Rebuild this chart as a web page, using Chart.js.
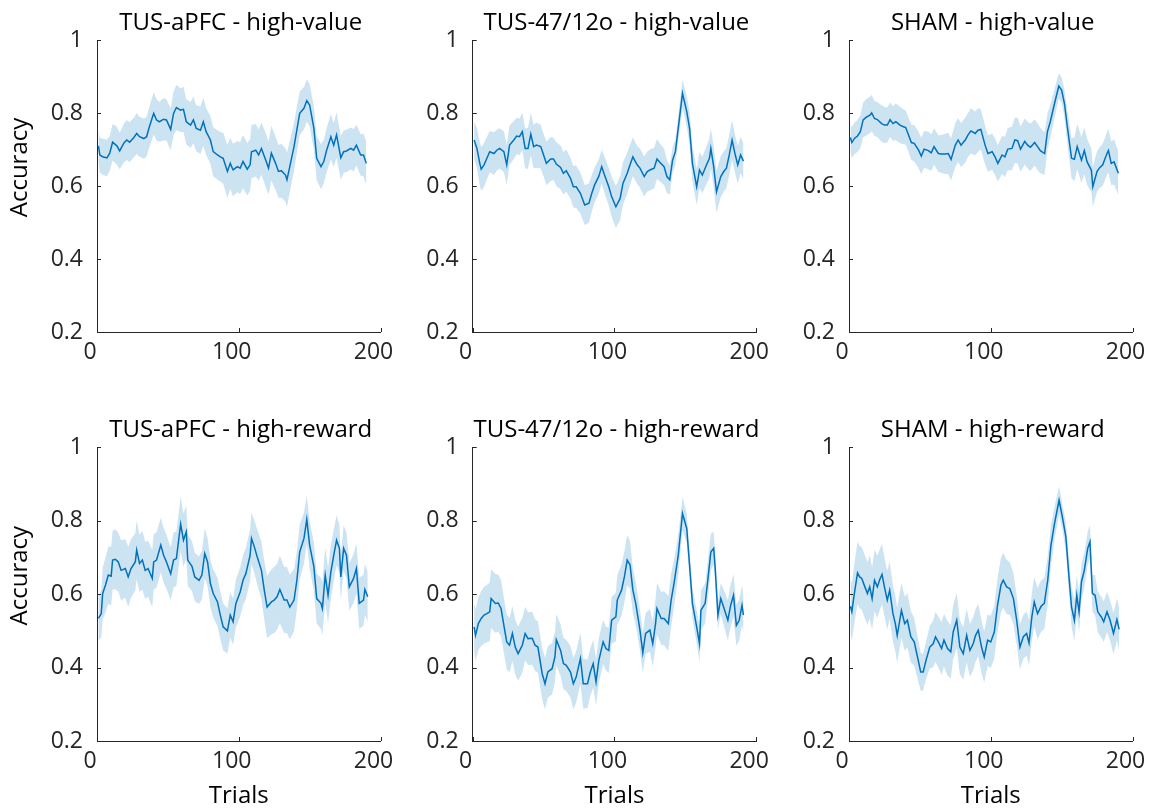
<!DOCTYPE html>
<html><head><meta charset="utf-8">
<script src="https://cdn.jsdelivr.net/npm/chart.js@4.4.1/dist/chart.umd.min.js"></script>
<style>
html,body{margin:0;padding:0;background:#fff;width:1154px;height:809px;overflow:hidden;position:relative}
canvas{position:absolute}
</style></head><body>
<script>
// ---------- tick labels / titles ----------
const xTicks = [0, 100, 200];
const yTicks = [0.2, 0.4, 0.6, 0.8, 1];
const titles = ['TUS-aPFC - high-value', 'TUS-47/12o - high-value', 'SHAM - high-value',
                'TUS-aPFC - high-reward', 'TUS-47/12o - high-reward', 'SHAM - high-reward'];
const yLabel = 'Accuracy';
const xLabel = 'Trials';

// ---------- TUS-aPFC - high-value ----------
const trialsAV = [1,2,4,7,9,11,14,16,19,21,23,26,28,30,33,35,37,40,42,44,47,49,52,54,56,59,61,63,66,68,70,73,75,77,80,82,85,87,89,92,94,96,99,101,103,106,108,109,112,114,116,119,121,123,126,128,130,133,134,136,139,141,143,146,148,150,153,155,158,160,162,165,167,169,172,174,176,179,181,183,186,188,190];
const accAV = [0.71,0.685,0.68,0.677,0.69,0.72,0.71,0.696,0.718,0.726,0.72,0.733,0.744,0.735,0.73,0.735,0.763,0.799,0.781,0.776,0.783,0.781,0.755,0.799,0.815,0.808,0.81,0.776,0.767,0.781,0.758,0.753,0.776,0.749,0.726,0.694,0.685,0.68,0.676,0.64,0.662,0.644,0.653,0.649,0.667,0.646,0.658,0.694,0.698,0.685,0.703,0.671,0.649,0.69,0.662,0.64,0.642,0.63,0.617,0.653,0.708,0.754,0.799,0.813,0.834,0.822,0.758,0.676,0.653,0.667,0.698,0.735,0.712,0.74,0.677,0.694,0.696,0.703,0.698,0.712,0.685,0.685,0.662];
const semAV = [0.045,0.047,0.05,0.05,0.048, 0.05,0.052,0.05,0.053,0.055, 0.055,0.054,0.056,0.055,0.055, 0.054,0.056,0.058,0.057,0.055, 0.058,0.056,0.058,0.06,0.062, 0.06,0.062,0.062,0.063,0.064, 0.063,0.065,0.066,0.064,0.066, 0.067,0.068,0.068,0.07,0.072, 0.07,0.072,0.07,0.071,0.073, 0.072,0.07,0.073,0.072,0.07, 0.072,0.074,0.073,0.075,0.073, 0.072,0.074,0.073,0.075,0.07, 0.066,0.063,0.06,0.058,0.058, 0.058,0.06,0.06,0.062,0.06, 0.06,0.062,0.06,0.062,0.06, 0.058,0.058,0.057,0.058,0.056, 0.057,0.058,0.06];

// ---------- TUS-47/12o - high-value ----------
const trials4V = [1,3,5,6,8,10,12,15,17,19,22,24,26,29,31,33,35,37,39,41,43,45,48,50,52,55,57,59,62,64,66,69,71,73,76,79,82,84,86,89,91,93,96,98,101,104,106,109,111,113,116,118,121,123,125,128,130,132,135,137,139,141,143,145,148,151,153,155,158,160,162,165,167,168,170,172,175,177,179,181,183,185,187,189,191];
const acc4V = [0.726,0.703,0.662,0.646,0.658,0.676,0.694,0.689,0.698,0.703,0.694,0.658,0.712,0.726,0.737,0.735,0.749,0.703,0.703,0.742,0.708,0.712,0.708,0.685,0.662,0.674,0.674,0.66,0.651,0.635,0.642,0.621,0.598,0.598,0.58,0.548,0.553,0.58,0.603,0.627,0.653,0.63,0.598,0.571,0.543,0.566,0.607,0.635,0.658,0.68,0.658,0.649,0.626,0.639,0.644,0.649,0.674,0.665,0.653,0.626,0.617,0.671,0.694,0.758,0.854,0.804,0.758,0.662,0.598,0.644,0.63,0.658,0.676,0.703,0.653,0.584,0.626,0.639,0.649,0.685,0.726,0.689,0.658,0.685,0.668];
const sem4V = [0.05,0.055,0.06,0.06,0.06, 0.058,0.057,0.058,0.056,0.055, 0.056,0.055,0.054,0.052,0.05, 0.05,0.052,0.055,0.056,0.058, 0.06,0.062,0.06,0.058,0.06, 0.06,0.058,0.06,0.06,0.058, 0.058,0.056,0.057,0.058,0.056, 0.055,0.054,0.05,0.048,0.047, 0.046,0.05,0.052,0.055,0.058, 0.06,0.058,0.057,0.055,0.053, 0.052,0.054,0.055,0.055,0.056, 0.056,0.055,0.052,0.05,0.045, 0.04,0.035,0.035,0.035,0.038, 0.042,0.045,0.048,0.05,0.05, 0.05,0.052,0.055,0.055,0.056, 0.058,0.056,0.055,0.055,0.055, 0.054,0.052,0.052,0.05,0.05];

// ---------- SHAM - high-value ----------
const trialsSV = [1,2,4,6,8,10,12,15,16,18,20,23,25,27,29,31,33,36,38,40,42,44,46,49,51,53,56,58,60,63,65,68,70,72,75,77,79,82,84,86,89,91,93,96,98,101,103,105,108,110,112,115,117,119,121,124,126,128,131,133,135,138,140,142,145,148,150,152,154,157,159,161,164,166,168,171,172,175,177,179,182,183,185,187,190];
const accSV = [0.733,0.719,0.731,0.737,0.749,0.781,0.788,0.795,0.8,0.785,0.782,0.771,0.767,0.767,0.782,0.771,0.776,0.767,0.763,0.76,0.74,0.719,0.717,0.699,0.682,0.701,0.697,0.691,0.708,0.689,0.688,0.688,0.689,0.673,0.712,0.726,0.712,0.726,0.74,0.751,0.744,0.753,0.755,0.712,0.689,0.694,0.68,0.662,0.685,0.68,0.701,0.703,0.726,0.724,0.701,0.722,0.712,0.706,0.719,0.708,0.697,0.689,0.749,0.776,0.826,0.874,0.863,0.826,0.763,0.676,0.673,0.708,0.671,0.697,0.666,0.643,0.598,0.64,0.651,0.658,0.689,0.697,0.662,0.666,0.635];
const semSV = [0.04,0.042,0.043,0.044,0.045, 0.048,0.05,0.05,0.05,0.048, 0.048,0.05,0.05,0.048,0.047, 0.048,0.05,0.05,0.048,0.047, 0.047,0.048,0.05,0.05,0.05, 0.05,0.052,0.05,0.05,0.05, 0.052,0.055,0.057,0.058,0.06, 0.06,0.06,0.062,0.06,0.062, 0.06,0.06,0.055,0.053,0.05, 0.05,0.05,0.05,0.052,0.055, 0.058,0.06,0.062,0.063,0.062, 0.063,0.064,0.065,0.063,0.064, 0.062,0.058,0.05,0.045,0.04, 0.035,0.035,0.038,0.045,0.055, 0.06,0.062,0.063,0.064,0.063, 0.06,0.055,0.055,0.056,0.058, 0.058,0.06,0.06,0.062,0.06];

// ---------- TUS-aPFC - high-reward ----------
const trialsAR = [1,3,4,6,8,10,11,13,15,17,20,22,24,27,28,30,32,34,36,39,40,42,45,47,49,52,54,56,59,61,63,64,67,69,72,74,76,78,80,82,85,87,89,92,94,96,98,101,103,105,108,109,111,113,116,118,120,123,125,127,129,132,134,136,139,141,143,146,148,150,153,155,158,159,161,163,165,167,169,171,172,174,176,178,181,183,185,188,189,191];
const accAR = [0.534,0.547,0.602,0.625,0.652,0.649,0.693,0.695,0.688,0.665,0.67,0.647,0.67,0.688,0.72,0.684,0.693,0.665,0.67,0.643,0.688,0.693,0.734,0.706,0.688,0.656,0.693,0.697,0.791,0.747,0.77,0.693,0.676,0.647,0.638,0.652,0.711,0.688,0.629,0.602,0.579,0.543,0.511,0.5,0.543,0.525,0.575,0.606,0.638,0.656,0.706,0.752,0.729,0.702,0.665,0.611,0.565,0.579,0.584,0.593,0.613,0.584,0.584,0.565,0.584,0.638,0.715,0.752,0.804,0.734,0.675,0.588,0.575,0.561,0.652,0.597,0.661,0.706,0.747,0.725,0.647,0.725,0.706,0.62,0.643,0.67,0.575,0.584,0.613,0.593];
const semAR = [0.06,0.065,0.07,0.075,0.078, 0.08,0.08,0.082,0.08,0.082, 0.08,0.082,0.08,0.078,0.08, 0.078,0.08,0.078,0.076,0.078, 0.076,0.075,0.074,0.075,0.073, 0.072,0.075,0.074,0.075,0.073, 0.072,0.07,0.068,0.066,0.065, 0.066,0.068,0.066,0.065,0.066, 0.066,0.065,0.064,0.062,0.062, 0.063,0.065,0.067,0.068,0.07, 0.07,0.07,0.072,0.075,0.078, 0.08,0.085,0.088,0.09,0.09, 0.092,0.09,0.09,0.088,0.085, 0.08,0.075,0.07,0.065,0.065, 0.066,0.068,0.07,0.072,0.075, 0.075,0.074,0.07,0.068,0.065, 0.062,0.062,0.063,0.065,0.066, 0.068,0.07,0.07,0.07,0.068];

// ---------- TUS-47/12o - high-reward ----------
const trials4R = [1,2,4,6,8,10,12,13,16,18,20,22,24,26,28,30,32,35,37,39,42,44,46,49,51,53,56,58,59,62,64,66,69,71,73,76,78,81,83,85,87,89,92,94,96,98,101,102,105,107,109,111,113,115,118,120,122,125,127,129,130,133,135,138,140,142,145,148,151,153,155,158,160,161,164,166,168,170,171,173,175,177,180,182,184,186,188,190,191];
const acc4R = [0.511,0.488,0.52,0.534,0.543,0.547,0.552,0.588,0.575,0.576,0.561,0.515,0.47,0.461,0.493,0.456,0.438,0.461,0.493,0.479,0.48,0.461,0.456,0.384,0.356,0.388,0.397,0.429,0.476,0.447,0.411,0.406,0.388,0.356,0.374,0.425,0.356,0.356,0.388,0.411,0.361,0.42,0.47,0.452,0.447,0.529,0.538,0.584,0.611,0.647,0.693,0.68,0.611,0.575,0.502,0.44,0.493,0.502,0.465,0.52,0.561,0.534,0.534,0.52,0.584,0.629,0.706,0.82,0.779,0.679,0.575,0.511,0.465,0.556,0.575,0.643,0.715,0.725,0.675,0.543,0.588,0.565,0.529,0.57,0.597,0.515,0.529,0.57,0.543];
const sem4R = [0.065,0.07,0.072,0.075,0.077, 0.078,0.08,0.08,0.08,0.078, 0.077,0.075,0.075,0.074,0.075, 0.075,0.074,0.075,0.073,0.072, 0.072,0.07,0.07,0.07,0.071, 0.07,0.07,0.068,0.07,0.07, 0.07,0.07,0.07,0.071,0.07, 0.07,0.068,0.066,0.065,0.065, 0.063,0.062,0.06,0.06,0.062, 0.064,0.066,0.068,0.07,0.07, 0.068,0.065,0.062,0.058,0.056, 0.055,0.056,0.058,0.062,0.066, 0.07,0.072,0.074,0.075,0.072, 0.065,0.055,0.045,0.04,0.04, 0.042,0.045,0.05,0.055,0.055, 0.052,0.05,0.045,0.042,0.04, 0.042,0.048,0.055,0.058,0.058, 0.056,0.055,0.054,0.052];

// ---------- SHAM - high-reward ----------
const trialsSR = [1,2,3.5,4.5,6,7.5,9,11,13,14.6,16.3,18,20,21.7,23.3,25,27,28.7,31,32.7,34,35.8,37,39.3,41.2,43.6,46,48.3,50.6,52.3,54.7,57,59.4,61,63,65.3,67,69.5,71.8,73.5,76,78.2,80.6,83,85.3,87.6,89.3,91.2,93.5,95.4,97.8,100,102.5,104.8,107.2,108.8,111.2,113.5,116,118.3,120.6,123,125.3,127,129,130.7,133,135.5,137.8,140.2,142.5,145,148.2,150.5,153,155.2,157,159,160.7,162.3,164,166,168.4,170,171.7,173.6,175.5,178,179.7,182,184.2,186.6,189,190.6];
const accSR = [0.567,0.552,0.595,0.62,0.658,0.647,0.643,0.622,0.602,0.62,0.588,0.638,0.62,0.64,0.654,0.62,0.584,0.611,0.547,0.52,0.488,0.529,0.556,0.52,0.529,0.484,0.47,0.429,0.388,0.388,0.425,0.456,0.465,0.484,0.47,0.452,0.475,0.452,0.443,0.497,0.529,0.456,0.438,0.488,0.447,0.465,0.488,0.502,0.456,0.429,0.475,0.47,0.497,0.57,0.625,0.638,0.62,0.615,0.588,0.529,0.456,0.484,0.493,0.467,0.538,0.579,0.547,0.567,0.575,0.638,0.734,0.793,0.856,0.811,0.756,0.647,0.565,0.529,0.597,0.552,0.634,0.665,0.725,0.743,0.602,0.597,0.552,0.538,0.525,0.552,0.529,0.493,0.531,0.504];
const semSR = [0.075,0.078,0.08,0.082,0.085, 0.085,0.085,0.086,0.085,0.086, 0.085,0.084,0.085,0.083,0.082, 0.08,0.08,0.078,0.077,0.076, 0.075,0.076,0.075,0.074,0.074, 0.07,0.065,0.058,0.052,0.05, 0.052,0.058,0.064,0.068,0.07, 0.072,0.072,0.074,0.073,0.074, 0.075,0.074,0.072,0.073,0.072, 0.072,0.072,0.071,0.072,0.07, 0.07,0.071,0.072,0.074,0.075, 0.075,0.074,0.072,0.07,0.066, 0.062,0.06,0.06,0.062,0.065, 0.068,0.07,0.07,0.07,0.066, 0.055,0.045,0.038,0.035,0.04, 0.048,0.054,0.056,0.055,0.055, 0.05,0.048,0.045,0.045,0.05, 0.055,0.056,0.056,0.055,0.055, 0.055,0.056,0.057,0.058];

// ---------- layout (pixel geometry only) ----------
const LINE = '#0072BD';
const BAND = 'rgba(0,114,189,0.2)';
const AXIS = '#262626';
const FONT = '"Open Sans", "Noto Sans", sans-serif';
const colCanvasLeft = [0, 376, 752];
const colPlotLeft = [97, 472.7, 849];
const plotWidth = 283.5;
const rowCanvasTop = [0, 404];
const rowPlotTop = [40, 447.4];
const rowPlotBottom = [332, 741];
const CW = 420, CH = 405;

const panels = [
  {c:0, r:0, t:trialsAV, m:accAV, s:semAV},
  {c:1, r:0, t:trials4V, m:acc4V, s:sem4V},
  {c:2, r:0, t:trialsSV, m:accSV, s:semSV},
  {c:0, r:1, t:trialsAR, m:accAR, s:semAR},
  {c:1, r:1, t:trials4R, m:acc4R, s:sem4R},
  {c:2, r:1, t:trialsSR, m:accSR, s:semSR}
];

const panelDecor = {
  id: 'panelDecor',
  afterDraw(chart, args, o) {
    const {ctx, chartArea: a, scales: {x, y}} = chart;
    ctx.save();
    ctx.strokeStyle = AXIS; ctx.lineWidth = 1;
    ctx.beginPath();
    x.ticks.forEach(tk => {
      const px = Math.round(x.getPixelForValue(tk.value)) + 0.5;
      ctx.moveTo(px, a.bottom); ctx.lineTo(px, a.bottom - 4);
    });
    y.ticks.forEach(tk => {
      const py = Math.round(y.getPixelForValue(tk.value)) + 0.5;
      ctx.moveTo(a.left, py); ctx.lineTo(a.left + 4, py);
    });
    ctx.stroke();
    ctx.fillStyle = '#000';
    ctx.font = '24px ' + FONT;
    ctx.textAlign = 'center';
    ctx.textBaseline = 'alphabetic';
    ctx.fillText(o.title, (a.left + a.right) / 2 + o.titleDx, a.top - 10);
    if (o.xlabel) ctx.fillText(o.xlabel, (a.left + a.right) / 2, a.bottom + 62);
    if (o.ylabel) {
      ctx.translate(o.ylabelX, (a.top + a.bottom) / 2 - 18.5);
      ctx.rotate(-Math.PI / 2);
      ctx.textBaseline = 'middle';
      ctx.fillText(o.ylabel, 0, 0);
    }
    ctx.restore();
  }
};

function build() {
  panels.forEach((p, i) => {
    const cv = document.createElement('canvas');
    const left = colCanvasLeft[p.c], top = rowCanvasTop[p.r];
    cv.width = CW; cv.height = CH;
    cv.style.left = left + 'px'; cv.style.top = top + 'px';
    cv.style.width = CW + 'px'; cv.style.height = CH + 'px';
    document.body.appendChild(cv);
    const plotL = colPlotLeft[p.c], plotR = plotL + plotWidth;
    const plotT = rowPlotTop[p.r], plotB = rowPlotBottom[p.r];

    const mean = p.t.map((t, k) => ({x: t, y: p.m[k]}));
    const upper = p.t.map((t, k) => ({x: t, y: p.m[k] + p.s[k]}));
    const lower = p.t.map((t, k) => ({x: t, y: p.m[k] - p.s[k]}));

    new Chart(cv, {
      type: 'line',
      data: {
        datasets: [
          {data: mean, borderColor: LINE, borderWidth: 1.5, pointRadius: 0, fill: false, tension: 0, order: 0},
          {data: upper, borderWidth: 0, borderColor: 'rgba(0,0,0,0)', backgroundColor: BAND, pointRadius: 0, fill: '+1', tension: 0, order: 1},
          {data: lower, borderWidth: 0, borderColor: 'rgba(0,0,0,0)', backgroundColor: BAND, pointRadius: 0, fill: false, tension: 0, order: 1}
        ]
      },
      options: {
        responsive: false,
        animation: false,
        devicePixelRatio: 1,
        events: [],
        layout: {padding: {left: 0, top: plotT - top, right: left + CW - plotR, bottom: 0}},
        plugins: {
          legend: {display: false},
          tooltip: {enabled: false},
          panelDecor: {
            title: titles[i], titleDx: 2,
            xlabel: p.r === 1 ? xLabel : null,
            ylabel: p.c === 0 ? yLabel : null,
            ylabelX: 20 - left
          }
        },
        scales: {
          x: {
            type: 'linear', min: 0, max: 200,
            afterBuildTicks: s => { s.ticks = xTicks.map(v => ({value: v})); },
            afterFit: s => { s.height = top + CH - plotB; },
            grid: {display: false, drawTicks: false},
            border: {display: true, color: AXIS, width: 1},
            ticks: {font: {family: FONT, size: 23}, color: AXIS, padding: 7, labelOffset: -7, maxRotation: 0,
                    callback: v => String(v)}
          },
          y: {
            type: 'linear', min: 0.2, max: 1,
            afterBuildTicks: s => { s.ticks = yTicks.map(v => ({value: v})); },
            afterFit: s => { s.width = plotL - left; },
            grid: {display: false, drawTicks: false},
            border: {display: true, color: AXIS, width: 1},
            ticks: {font: {family: FONT, size: 23}, color: AXIS, padding: 14,
                    callback: v => String(Math.round(v * 10) / 10)}
          }
        }
      },
      plugins: [panelDecor]
    });
  });
}
if (document.fonts && document.fonts.load) {
  document.fonts.load('23px "Open Sans"').then(build, build);
} else { build(); }
</script>
</body></html>
